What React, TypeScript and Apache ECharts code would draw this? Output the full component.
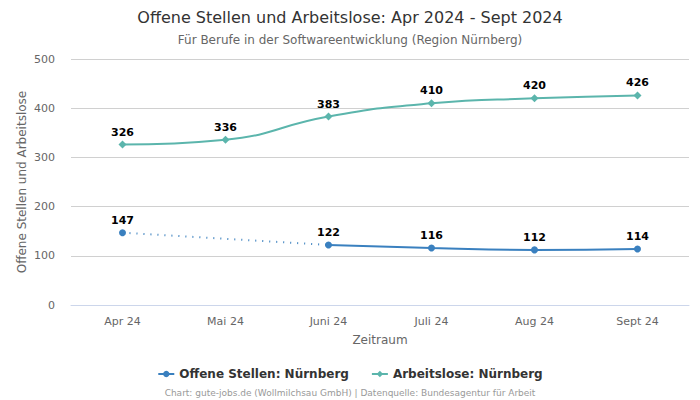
import React, { useEffect, useRef } from "react";
import * as echarts from "echarts";

const categories = ["Apr 24", "Mai 24", "Juni 24", "Juli 24", "Aug 24", "Sept 24"];
const offeneStellen: (number | null)[] = [147, null, 122, 116, 112, 114];
const arbeitslose = [326, 336, 383, 410, 420, 426];
const gapBridge: (number | null)[] = [147, null, 122, null, null, null];

const FONT = "DejaVu Sans, sans-serif";
const BLUE = "#3a80bf";
const GREEN = "#5bb5ac";

export default function App() {
  const ref = useRef<HTMLDivElement>(null);
  useEffect(() => {
    if (!ref.current) return;
    const chart = echarts.init(ref.current, null, { renderer: "svg" });
    const label = {
      show: true,
      position: "top" as const,
      fontFamily: FONT,
      fontWeight: "bold" as const,
      fontSize: 11,
      color: "#000",
      distance: 3,
    };
    chart.setOption({
      animation: false,
      textStyle: { fontFamily: FONT },
      title: [
        {
          text: "Offene Stellen und Arbeitslose: Apr 2024 - Sept 2024",
          left: "center",
          top: 4,
          textStyle: { fontFamily: FONT, fontSize: 16, fontWeight: "normal", color: "#333" },
        },
        {
          text: "Für Berufe in der Softwareentwicklung (Region Nürnberg)",
          left: "center",
          top: 29,
          textStyle: { fontFamily: FONT, fontSize: 12, fontWeight: "normal", color: "#666" },
        },
        {
          text: "Chart: gute-jobs.de (Wollmilchsau GmbH) | Datenquelle: Bundesagentur für Arbeit",
          left: "center",
          top: 383,
          textStyle: { fontFamily: FONT, fontSize: 9, fontWeight: "normal", color: "#999" },
        },
      ],
      legend: {
        bottom: 15,
        left: "center",
        itemGap: 22,
        itemWidth: 16,
        itemHeight: 8,
        textStyle: { fontFamily: FONT, fontSize: 12, fontWeight: "bold", color: "#333" },
        data: ["Offene Stellen: Nürnberg", "Arbeitslose: Nürnberg"],
      },
      grid: { left: 71, right: 11, top: 59, bottom: 95 },
      xAxis: {
        type: "category",
        data: categories,
        boundaryGap: true,
        name: "Zeitraum",
        nameLocation: "middle",
        nameGap: 29,
        nameMoveOverlap: false,
        nameTextStyle: { fontFamily: FONT, fontSize: 12, color: "#666" },
        axisLine: { lineStyle: { color: "#ccd6eb" } },
        axisTick: { show: false },
        axisLabel: { fontFamily: FONT, fontSize: 11, color: "#666", margin: 11 },
      },
      yAxis: {
        type: "value",
        min: 0,
        max: 500,
        interval: 100,
        name: "Offene Stellen und Arbeitslose",
        nameLocation: "middle",
        nameGap: 43,
        nameMoveOverlap: false,
        nameTextStyle: { fontFamily: FONT, fontSize: 12, color: "#666" },
        axisLine: { show: false },
        axisTick: { show: false },
        axisLabel: { fontFamily: FONT, fontSize: 11, color: "#666", margin: 16 },
        splitLine: { lineStyle: { color: "#d0d0d0" } },
      },
      series: [
        {
          name: "Offene Stellen: Nürnberg",
          type: "line",
          data: offeneStellen,
          smooth: true,
          connectNulls: false,
          symbol: "circle",
          symbolSize: 7,
          itemStyle: { color: BLUE },
          lineStyle: { color: BLUE, width: 2 },
          label,
          z: 3,
        },
        {
          name: "bridge",
          type: "line",
          data: gapBridge,
          connectNulls: true,
          showSymbol: false,
          symbol: "none",
          itemStyle: { color: BLUE },
          lineStyle: { color: BLUE, width: 2, type: [1, 6] },
          silent: true,
          z: 2,
        },
        {
          name: "Arbeitslose: Nürnberg",
          type: "line",
          data: arbeitslose,
          smooth: true,
          symbol: "diamond",
          symbolSize: 8,
          itemStyle: { color: GREEN },
          lineStyle: { color: GREEN, width: 2 },
          label,
          z: 3,
        },
      ],
    });
    return () => chart.dispose();
  }, []);
  return <div ref={ref} style={{ width: 700, height: 400, position: "absolute", left: 0, top: 0 }} />;
}
